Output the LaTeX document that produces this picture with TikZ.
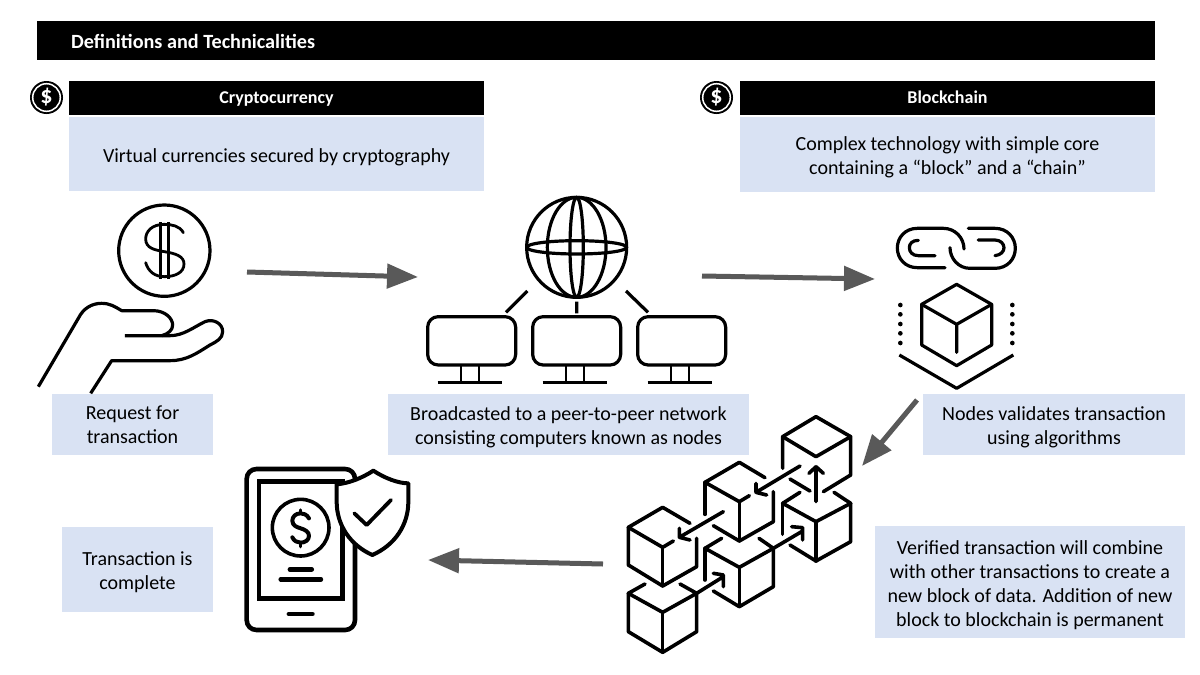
\documentclass[tikz,border=0pt]{standalone}
\usepackage{fontspec}
\setmainfont{Carlito}
\usetikzlibrary{arrows.meta}
\definecolor{boxblue}{HTML}{D9E2F3}
\definecolor{arrowgray}{HTML}{595959}
\newcommand{\dropstrut}{\rule{0pt}{20pt}}
\tikzset{
  blackbar/.style={fill=black,text=white,font=\fontsize{18}{20}\selectfont\bfseries,inner sep=0pt,anchor=center,text height=14pt,text depth=2.5pt},
  bluebox/.style={fill=boxblue,text=black,font=\fontsize{20}{24}\selectfont,align=center,inner sep=0pt,anchor=center},
  flow/.style={draw=arrowgray,line width=5pt,-{Triangle[length=31pt,width=24pt]},shorten >=0pt},
  icon/.style={draw=black,line width=3.2pt,line cap=round,line join=round},
  thick icon/.style={draw=black,line width=3.6pt,line cap=round,line join=round},
  zoomed/.style={x=0.33333pt,y=-0.33333pt},
  coinbadge/.style={circle,fill=black,minimum size=33pt,inner sep=0pt,text=white,font=\fontsize{24}{24}\selectfont\bfseries},
}
\begin{document}
\begin{tikzpicture}[x=1pt,y=-1pt]
\useasboundingbox (0,0) rectangle (1200,675);
\fill[white] (0,0) rectangle (1200,675);

% header bars
\node[blackbar,minimum width=1118pt,minimum height=39pt,text height=0pt,text depth=0pt] (title) at (596,40.5) {};
\node[text=white,font=\fontsize{20.2}{21}\selectfont\bfseries,anchor=west,inner sep=0pt] (titletext) at (71,41.5) {Definitions and Technicalities};
\node[blackbar,minimum width=415pt,minimum height=34pt] (crypto) at (276.5,98) {Cryptocurrency};
\node[blackbar,minimum width=415pt,minimum height=34pt] (chain) at (947.5,98) {Blockchain};

% badges
\node[coinbadge] (badgeL) at (46.5,97.5) {\$};
\node[coinbadge] (badgeR) at (716.5,97.5) {\$};
\draw[white,line width=1.5pt] (badgeL) circle (13.8pt);
\draw[white,line width=1.5pt] (badgeR) circle (13.8pt);

% blue boxes
\node[bluebox,minimum width=415pt,minimum height=74pt] (b1) at (276.5,154) {\dropstrut Virtual currencies secured by cryptography};
\node[bluebox,minimum width=415pt,minimum height=75pt] (b2) at (947.5,154.5) {\dropstrut Complex technology with simple core\\containing a “block” and a “chain”};
\node[bluebox,minimum width=161pt,minimum height=61pt] (b3) at (132.5,424.5) {Request for\\transaction};
\node[bluebox,minimum width=361pt,minimum height=61pt] (b4) at (568.5,424.5) {\dropstrut Broadcasted to a peer-to-peer network\\consisting computers known as nodes};
\node[bluebox,minimum width=262pt,minimum height=61pt] (b5) at (1054,424.5) {\dropstrut Nodes validates transaction\\using algorithms};
\node[bluebox,minimum width=151pt,minimum height=85pt] (b6) at (137.5,569.5) {\dropstrut Transaction is\\complete};
\node[bluebox,minimum width=310pt,minimum height=112pt] (b7) at (1030,582) {\dropstrut Verified transaction will combine\\with other transactions to create a\\new block of data. Addition of new\\block to blockchain is permanent};

% flow arrows
\coordinate (a1s) at (247,272); \coordinate (a1e) at (418,277);
\coordinate (a2s) at (702,276); \coordinate (a2e) at (875,279);
\coordinate (a3s) at (917,400); \coordinate (a3e) at (862,466);
\coordinate (a4s) at (603,564); \coordinate (a4e) at (428,560);
\draw[flow] (a1s) -- (a1e);
\draw[flow] (a2s) -- (a2e);
\draw[flow] (a3s) -- (a3e);
\draw[flow] (a4s) -- (a4e);

% hand with coin
\begin{scope}[shift={(20,190)},zoomed]
\draw[icon] (433,182) circle [radius=137];
\draw[icon,line width=2.8pt,line cap=butt] (421,97) -- (421,268) (445,97) -- (445,268);
\draw[icon,line width=2.8pt] (490,128) .. controls (480,108) and (455,103) .. (433,103) .. controls (395,103) and (377,125) .. (377,147) .. controls (377,175) and (405,180) .. (433,185) .. controls (465,190) and (492,198) .. (492,222) .. controls (492,248) and (465,260) .. (433,260) .. controls (405,260) and (385,245) .. (377,218);
\draw[icon,line cap=butt] (55,590) -- (175,385) .. controls (190,355) and (215,340) .. (245,340) .. controls (270,340) and (285,350) .. (305,362) -- (400,362) .. controls (435,362) and (458,385) .. (458,405) .. controls (458,420) and (445,432) .. (425,437);
\draw[icon,line cap=butt] (315,437) -- (450,437) .. controls (490,437) and (520,412) .. (555,395) .. controls (580,385) and (608,400) .. (608,425) .. controls (608,445) and (590,455) .. (570,465) .. controls (530,490) and (500,512) .. (450,512) -- (275,512) -- (212,610);
\end{scope}

% globe and monitors
\begin{scope}[shift={(410,195)},zoomed]
\draw[icon] (500,157) circle [radius=150];
\draw[icon] (500,157) ellipse [x radius=88,y radius=150];
\draw[icon] (500,157) ellipse [x radius=20,y radius=150];
\draw[icon] (500,157) ellipse [x radius=150,y radius=20];
\draw[icon,line cap=butt] (352,288) -- (288,352) (500,320) -- (500,355) (648,288) -- (714,352);
\foreach \d in {0,315,630}{
  \draw[icon,rounded corners=10.5pt] (53+\d,365) rectangle (317+\d,510);
  \draw[icon,line cap=butt,line width=2.6pt] (153+\d,510) -- (153+\d,563) (207+\d,510) -- (207+\d,563);
  \draw[icon,line cap=butt] (83+\d,563) -- (275+\d,563);
}
\end{scope}

% link and cube
\begin{scope}[shift={(860,215)},zoomed]
\draw[icon] (255,158) -- (172,158) .. controls (135,158) and (112,130) .. (112,99) .. controls (112,68) and (135,40) .. (172,40) -- (250,40) .. controls (285,40) and (312,68) .. (312,102);
\draw[icon] (225,122) -- (175,122) .. controls (157,122) and (148,110) .. (148,98) .. controls (148,86) and (157,76) .. (175,76);
\draw[icon] (325,40) -- (405,40) .. controls (442,40) and (466,68) .. (466,100) .. controls (466,132) and (442,160) .. (405,160) -- (330,160) .. controls (295,160) and (270,130) .. (270,98);
\draw[icon] (355,75) -- (405,75) .. controls (422,75) and (432,87) .. (432,98) .. controls (432,110) and (422,120) .. (405,122);
\draw[icon] (290,208) -- (395,268) -- (395,390) -- (290,452) -- (185,390) -- (185,268) -- cycle;
\draw[icon] (185,268) -- (290,328) -- (395,268) (290,328) -- (290,412);
\draw[icon,line cap=butt] (118,420) -- (290,520) -- (460,420);
\foreach \py in {270,298,327,355,384}{
  \fill (121,\py) circle [radius=7];
  \fill (457,\py) circle [radius=7];
}
\end{scope}

% blockchain cubes
\begin{scope}[shift={(610,405)},zoomed,thick icon]
% A
\draw (518,190) -- (518,95) -- (618,35) -- (722,95) -- (722,210) -- (640,260);
\draw (518,95) -- (618,155) -- (722,95);
\draw (540,222) -- (600,258);
\draw (618,290) -- (618,185) (597,205) -- (618,185) -- (640,205);
% B
\draw (570,262) -- (518,295) -- (618,350) -- (722,295) -- (672,262);
\draw (518,295) -- (518,388);
\draw (540,420) -- (618,468) -- (722,410) -- (722,295);
\draw (618,350) -- (618,468);
% C
\draw (465,218) -- (388,172) -- (285,232) -- (388,290) -- (418,272);
\draw (285,232) -- (285,328);
\draw (310,362) -- (388,408) -- (490,350) -- (490,260);
\draw (388,290) -- (388,408);
\draw (570,183) -- (438,262) (438,235) -- (438,262) -- (470,270);
% D
\draw (335,400) -- (285,430) -- (388,487) -- (490,430) -- (447,400);
\draw (285,430) -- (285,525);
\draw (310,558) -- (388,605) -- (490,545) -- (490,430);
\draw (388,487) -- (388,605);
\draw (490,430) -- (578,378) (545,365) -- (578,368) -- (578,405);
% E
\draw (240,355) -- (158,307) -- (55,367) -- (158,427) -- (190,408);
\draw (55,367) -- (55,480) -- (158,543) -- (260,485) -- (260,400);
\draw (158,427) -- (158,543);
\draw (340,320) -- (208,397) (208,370) -- (208,397) -- (240,405);
% F
\draw (105,537) -- (55,565) -- (158,622) -- (260,565) -- (210,537);
\draw (55,565) -- (55,680) -- (158,742) -- (260,680) -- (260,565);
\draw (158,622) -- (158,742);
\draw (260,565) -- (340,515) (310,505) -- (340,510) -- (340,545);
\end{scope}

% phone with shield
\begin{scope}[shift={(235,455)},zoomed]
\draw[icon,line width=4.6pt] (35,72) .. controls (35,55) and (48,42) .. (65,42) -- (330,42) .. controls (347,42) and (360,55) .. (360,72) -- (360,495) .. controls (360,512) and (347,525) .. (330,525) -- (65,525) .. controls (48,525) and (35,512) .. (35,495) -- cycle;
\draw[icon,line width=4.6pt,line cap=butt,line join=miter] (72,80) rectangle (322,430);
\draw[icon,line width=3.6pt] (197,218) circle [radius=85];
\draw[icon,line width=4pt] (222,190) .. controls (215,178) and (205,175) .. (197,175) .. controls (182,175) and (172,185) .. (172,197) .. controls (172,212) and (185,216) .. (197,220) .. controls (210,224) and (222,230) .. (222,243) .. controls (222,255) and (210,263) .. (197,263) .. controls (187,263) and (177,258) .. (172,247);
\draw[icon,line width=3.4pt] (197,165) -- (197,175) (197,263) -- (197,275);
\draw[icon,line width=4.8pt] (165,343) -- (230,343) (162,477) -- (232,477);
\draw[icon,line width=4.4pt] (137,373) -- (258,373);
\draw[icon,line width=4pt,fill=white] (415,47) .. controls (450,70) and (490,85) .. (520,85) -- (520,140) .. controls (520,210) and (480,270) .. (412,300) .. controls (345,270) and (305,210) .. (305,140) -- (305,88) .. controls (340,85) and (380,70) .. (415,47) -- cycle;
\draw[icon,line width=3.8pt] (358,175) -- (395,210) -- (468,135);
\end{scope}
\end{tikzpicture}
\end{document}
